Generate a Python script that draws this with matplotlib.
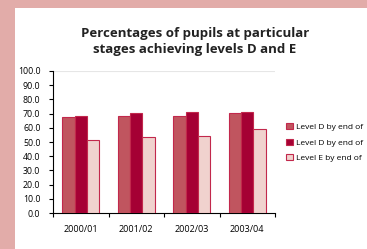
import numpy as np
import matplotlib.pyplot as plt
from matplotlib.patches import Rectangle

years = ["2000/01", "2001/02", "2002/03", "2003/04"]
level_d_1 = [67.4, 68.5, 68.5, 70.2]
level_d_2 = [68.3, 70.2, 71.1, 71.1]
level_e = [51.4, 53.7, 54.4, 59.4]
labels = ["Level D by end of", "Level D by end of", "Level E by end of"]

colors = ["#c0555f", "#a50034", "#f0d2ce"]
edge = "#c2284c"

plt.rcParams['font.family'] = ['Open Sans', 'DejaVu Sans']

fig = plt.figure(figsize=(3.67, 2.49), dpi=100)

# pink frame on top and left
fig.patches.append(Rectangle((0, 1 - 8 / 249), 1, 8 / 249, transform=fig.transFigure,
                             facecolor="#e2aca9", edgecolor="none", zorder=0))
fig.patches.append(Rectangle((0, 0), 15 / 367, 1, transform=fig.transFigure,
                             facecolor="#e2aca9", edgecolor="none", zorder=0))

ax = fig.add_axes([53 / 367, 1 - 213 / 249, 222 / 367, 142 / 249])

x = np.arange(len(years))
w = 0.22
series = [level_d_1, level_d_2, level_e]
bars = []
for i, vals in enumerate(series):
    b = ax.bar(x + (i - 1) * w, vals, w, color=colors[i], edgecolor=edge, linewidth=0.8,
               label=labels[i], zorder=3)
    bars.append(b)

ax.set_xlim(-0.5, len(years) - 0.5)
ax.set_ylim(0, 100)
ax.set_yticks(np.arange(0, 101, 10))
ax.set_yticklabels([f"{v:.1f}" for v in np.arange(0, 101, 10)], fontsize=6.3)
ax.set_xticks(x)
ax.set_xticklabels(years, fontsize=6.5)
ax.set_xticks(np.arange(-0.5, len(years), 1), minor=True)
ax.tick_params(axis="x", which="major", length=0, pad=8.5)
ax.tick_params(axis="x", which="minor", length=3, width=0.8, direction="out")
ax.tick_params(axis="y", length=3, width=0.8, pad=6)
ax.axhline(100, color="#e6e6e6", linewidth=0.8, zorder=1)
for s in ["top", "right"]:
    ax.spines[s].set_visible(False)
for s in ["left", "bottom"]:
    ax.spines[s].set_linewidth(0.8)

fig.text(0.531, 1 - 41 / 249, "Percentages of pupils at particular\nstages achieving levels D and E",
         ha="center", va="center", fontsize=9.5, fontweight="bold", color="#222222",
         linespacing=1.3)

fig.legend(handles=bars, labels=labels, loc="upper left",
           bbox_to_anchor=(283 / 367, 1 - 120 / 249), frameon=False, fontsize=6,
           handlelength=0.75, handleheight=0.75, handletextpad=0.4, labelspacing=0.9,
           borderaxespad=0)

fig.savefig("out.png", dpi=100)
